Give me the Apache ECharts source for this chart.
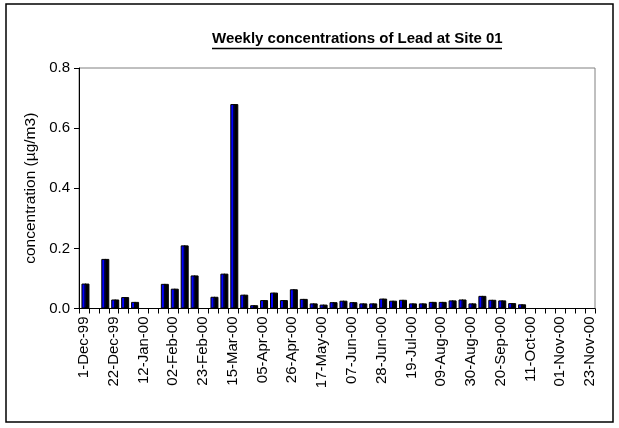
<!DOCTYPE html>
<html>
<head>
<meta charset="utf-8">
<script src="https://cdn.jsdelivr.net/npm/echarts@6/dist/echarts.min.js"></script>
<style>
html,body{margin:0;padding:0;background:#fff;}
#chart{width:619px;height:428px;}
</style>
</head>
<body>
<div id="chart"></div>
<script>
// weekly sampling dates
var weeks = ['1-Dec-99','08-Dec-99','15-Dec-99','22-Dec-99','29-Dec-99','05-Jan-00','12-Jan-00','19-Jan-00',
	'26-Jan-00','02-Feb-00','09-Feb-00','16-Feb-00','23-Feb-00','01-Mar-00','08-Mar-00','15-Mar-00',
	'22-Mar-00','29-Mar-00','05-Apr-00','12-Apr-00','19-Apr-00','26-Apr-00','03-May-00','10-May-00',
	'17-May-00','24-May-00','31-May-00','07-Jun-00','14-Jun-00','21-Jun-00','28-Jun-00','05-Jul-00',
	'12-Jul-00','19-Jul-00','26-Jul-00','02-Aug-00','09-Aug-00','16-Aug-00','23-Aug-00','30-Aug-00',
	'06-Sep-00','13-Sep-00','20-Sep-00','27-Sep-00','04-Oct-00','11-Oct-00','18-Oct-00','25-Oct-00',
	'01-Nov-00','08-Nov-00','15-Nov-00','23-Nov-00'];

// lead concentration (ug/m3), null = no sample
var lead = [0.083,null,0.165,0.030,0.038,0.022,null,null,
	0.082,0.066,0.210,0.110,null,0.039,0.116,0.680,
	0.046,0.011,0.028,0.053,0.028,0.064,0.032,0.017,
	0.013,0.021,0.026,0.021,0.017,0.017,0.033,0.026,
	0.029,0.017,0.017,0.022,0.022,0.027,0.030,0.017,
	0.042,0.029,0.027,0.018,0.014,null,null,null,
	null,null,null,null];

var yTicks = ['0.0','0.2','0.4','0.6','0.8'];

var font = 'Liberation Sans, Arial, sans-serif';

var myChart = echarts.init(document.getElementById('chart'));

var option = {
	animation: false,
	title: {
		text: 'Weekly concentrations of Lead at Site 01',
		left: 212,
		top: 31,
		padding: 0,
		textStyle: {fontFamily: font, fontSize: 15, fontWeight: 'bold', color: '#000'}
	},
	graphic: [
		// outer frame
		{type: 'rect', shape: {x: 6, y: 4, width: 607, height: 418}, style: {fill: 'none', stroke: '#000', lineWidth: 1.5}},
		// title underline
		{type: 'line', shape: {x1: 212, y1: 48.5, x2: 502, y2: 48.5}, style: {stroke: '#000', lineWidth: 1.5}}
	],
	grid: {
		left: 79, right: 24, top: 68, bottom: 119.5,
		show: true, borderColor: '#808080', borderWidth: 1, backgroundColor: 'transparent'
	},
	xAxis: {
		type: 'category',
		data: weeks,
		boundaryGap: true,
		axisLine: {lineStyle: {color: '#000', width: 1}},
		axisTick: {show: true, alignWithLabel: false, interval: 0, length: 5, lineStyle: {color: '#000'}},
		axisLabel: {
			interval: 2, rotate: 90, margin: 8,
			fontFamily: font, fontSize: 15, color: '#000'
		},
		splitLine: {show: false}
	},
	yAxis: {
		type: 'value',
		min: 0, max: 0.8, interval: 0.2,
		name: 'concentration (\u00b5g/m3)',
		nameLocation: 'middle',
		nameGap: 39,
		nameTextStyle: {fontFamily: font, fontSize: 15.5, color: '#000'},
		axisLine: {show: true, lineStyle: {color: '#000', width: 1}},
		axisTick: {show: true, length: 5, lineStyle: {color: '#000'}},
		axisLabel: {
			margin: 9, fontFamily: font, fontSize: 15, color: '#000',
			formatter: function(v){ return yTicks[Math.round(v / 0.2)]; }
		},
		splitLine: {show: false}
	},
	series: [{
		name: 'Lead',
		type: 'bar',
		data: lead,
		barWidth: 5,
		itemStyle: {
			color: '#0000ff',
			borderColor: '#000',
			borderWidth: 1,
			shadowColor: '#000',
			shadowOffsetX: 3,
			shadowOffsetY: 0,
			shadowBlur: 0
		}
	}]
};

myChart.setOption(option);
</script>
</body>
</html>
